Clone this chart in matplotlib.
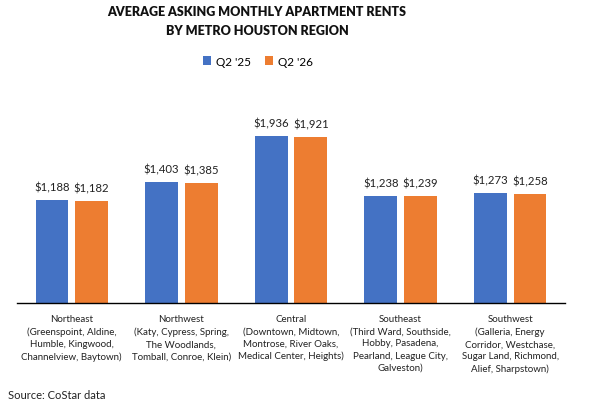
import matplotlib.pyplot as plt
import numpy as np

plt.rcParams['font.family'] = ['Lato', 'DejaVu Sans']

regions = [
    "Northeast\n(Greenspoint, Aldine,\nHumble, Kingwood,\nChannelview, Baytown)",
    "Northwest\n(Katy, Cypress, Spring,\nThe Woodlands,\nTomball, Conroe, Klein)",
    "Central\n(Downtown, Midtown,\nMontrose, River Oaks,\nMedical Center, Heights)",
    "Southeast\n(Third Ward, Southside,\nHobby, Pasadena,\nPearland, League City,\nGalveston)",
    "Southwest\n(Galleria, Energy\nCorridor, Westchase,\nSugar Land, Richmond,\nAlief, Sharpstown)",
]
q2_25 = [1188, 1403, 1936, 1238, 1273]
q2_26 = [1182, 1385, 1921, 1239, 1258]
series_names = ["Q2 '25", "Q2 '26"]

blue = '#4472C4'
orange = '#ED7D31'

W, H = 592, 406
fig = plt.figure(figsize=(W / 100, H / 100), dpi=100)
ymax = 2200
px_per_unit = 0.0864
ax_h = ymax * px_per_unit
ax = fig.add_axes([17 / W, 1 - 304 / H, 548 / W, ax_h / H])

x = np.arange(len(regions))
w = 0.30
off = 0.181
b1 = ax.bar(x - off, q2_25, w, color=blue, label=series_names[0])
b2 = ax.bar(x + off, q2_26, w, color=orange, label=series_names[1])

for bars in (b1, b2):
    for rect in bars:
        v = rect.get_height()
        ax.annotate(f"${v:,.0f}", (rect.get_x() + rect.get_width() / 2, v),
                    xytext=(0, 5.5), textcoords='offset points',
                    ha='center', va='bottom', fontsize=8.2, color='#222222')

ax.set_xlim(-0.5, len(regions) - 0.5)
ax.set_ylim(0, ymax)
ax.set_yticks([])
ax.set_xticks(x)
ax.set_xticklabels(regions, fontsize=7.0, color='#222222', linespacing=1.45)
ax.tick_params(axis='x', length=0, pad=8)
for s in ['top', 'right', 'left']:
    ax.spines[s].set_visible(False)
ax.spines['bottom'].set_color('black')
ax.spines['bottom'].set_linewidth(1.0)

fig.text(257 / W, 1 - 12 / H, "AVERAGE ASKING MONTHLY APARTMENT RENTS",
         ha='center', va='center', fontsize=9, fontweight='heavy', color='#111111')
fig.text(257 / W, 1 - 31 / H, "BY METRO HOUSTON REGION",
         ha='center', va='center', fontsize=9, fontweight='heavy', color='#111111')

fig.legend(handles=[b1, b2], loc='center', bbox_to_anchor=(258 / W, 1 - 62 / H),
           ncol=2, frameon=False, fontsize=8.5, handlelength=0.7, handleheight=0.7,
           handletextpad=0.4, columnspacing=1.2)

fig.text(8 / W, 1 - 396 / H, "Source: CoStar data", ha='left', va='center',
         fontsize=8, color='#222222')

plt.savefig("out.png", dpi=100, facecolor='white')
plt.close()
